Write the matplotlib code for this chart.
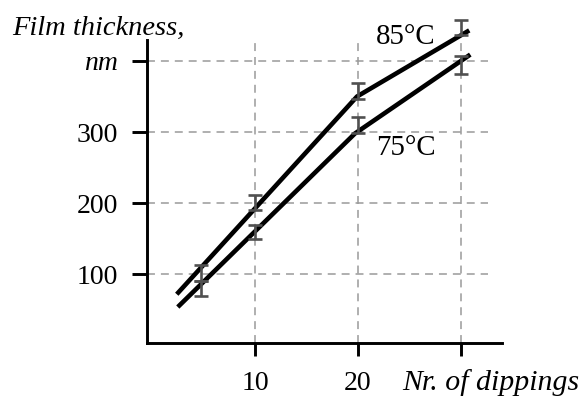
import numpy as np
from matplotlib import pyplot as plt

# line traces
line85_x = [2.4, 19.9, 30.8]
line85_y = [72, 350, 443]
line75_x = [2.5, 19.7, 30.9]
line75_y = [54, 298, 409]

# measured points with error bars
pts_x = [4.8, 10, 20, 30]
pts85_y = [102, 201, 358, 447]
pts75_y = [80, 160, 310, 394]
err85 = [11, 11, 11, 11]
err75 = [11, 10, 11, 13]

yticks = [100, 200, 300, 400]
ytick_labels = ["100", "200", "300", "nm"]
xticks = [10, 20, 30]
xtick_labels = ["10", "20", ""]

plt.rcParams['font.family'] = ['Liberation Serif', 'DejaVu Serif']

W, H = 581, 397
fig = plt.figure(figsize=(W / 100, H / 100), dpi=100)

# axes box in pixels (left, right, top, bottom)
px_l, px_r, px_t, px_b = 147, 502, 18.3, 342.8
ax = fig.add_axes([px_l / W, 1 - px_b / H, (px_r - px_l) / W, (px_b - px_t) / H])
ax.set_xlim(-0.49, 33.98)
ax.set_ylim(3.7, 460)

for s in ["top", "right"]:
    ax.spines[s].set_visible(False)
ax.spines["left"].set_bounds(3.7, 429)
ax.spines["left"].set_linewidth(2.1)
ax.spines["bottom"].set_linewidth(2.1)

# dashed grid, drawn by hand so it stops where the original stops
grid_kw = dict(color="#9a9a9a", linewidth=1.1, linestyle=(0, (5.2, 3.9)), zorder=1)
ax.hlines(yticks, -0.49, 32.6, **grid_kw)
ax.vlines(xticks, 3.7, 429, **grid_kw)

ax.plot(line85_x, line85_y, color="black", lw=3.3, solid_capstyle="butt", zorder=3)
ax.plot(line75_x, line75_y, color="black", lw=3.3, solid_capstyle="butt", zorder=3)

eb_kw = dict(fmt="none", ecolor="#505050", elinewidth=1.9, capsize=5.0, capthick=1.9, zorder=4)
ax.errorbar(pts_x, pts85_y, yerr=err85, **eb_kw)
ax.errorbar(pts_x, pts75_y, yerr=err75, **eb_kw)

ax.set_yticks(yticks)
ax.set_yticklabels(ytick_labels, fontsize=20)
ax.get_yticklabels()[-1].set_style("italic")
ax.set_xticks(xticks)
ax.set_xticklabels(xtick_labels, fontsize=20)
ax.tick_params(axis="y", direction="out", length=10.8, width=2.1, pad=10)
ax.tick_params(axis="x", direction="out", length=9.4, width=2.1, pad=11)

ax.text(21.75, 424, "85°C", fontsize=20.8, ha="left", va="baseline")
ax.text(21.75, 268, "75°C", fontsize=20.8, ha="left", va="baseline")

fig.text(12 / W, 1 - 35 / H, "Film thickness,", fontsize=20.5, style="italic",
         ha="left", va="baseline")
fig.text(402 / W, 1 - 390 / H, "Nr. of dippings", fontsize=21.5, style="italic",
         ha="left", va="baseline")

fig.savefig("out.png", dpi=100)
